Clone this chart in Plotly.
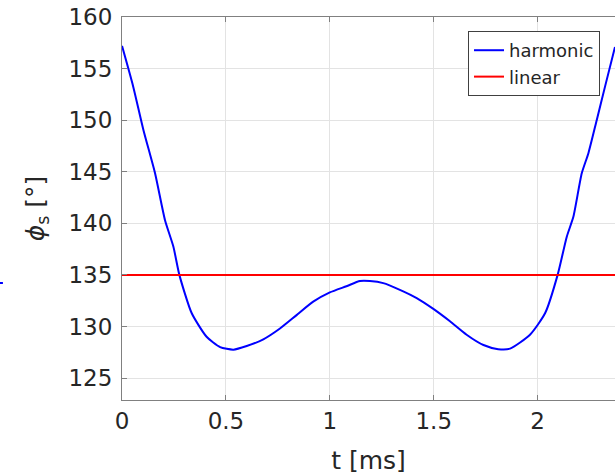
import plotly.graph_objects as go

# Data
t_ms = [0.0, 0.054, 0.103, 0.159, 0.207, 0.247, 0.276, 0.335, 0.407, 0.472, 0.536, 0.6,
        0.68, 0.76, 0.84, 0.92, 1.0, 1.08, 1.145, 1.193, 1.257, 1.337, 1.418, 1.498,
        1.578, 1.658, 1.739, 1.81, 1.867, 1.963, 2.036, 2.096, 2.14, 2.172, 2.212,
        2.244, 2.284, 2.324, 2.372]
phi_harmonic = [157.2, 153.25, 149.05, 144.85, 140.3, 137.75, 135.0, 131.3, 129.0, 128.0,
                127.75, 128.1, 128.75, 129.8, 131.1, 132.4, 133.3, 133.9, 134.4, 134.4,
                134.2, 133.55, 132.75, 131.7, 130.5, 129.2, 128.2, 127.8, 127.85, 129.2,
                131.3, 135.0, 138.7, 140.65, 144.85, 146.8, 150.0, 153.25, 157.1]
linear_t = [0.0, 2.372]
phi_linear = [135.0, 135.0]

x_range = [0, 2.372]
y_range = [122.87, 160]
x_ticks = [0, 0.5, 1, 1.5, 2]
x_ticklabels = ["0", "0.5", "1", "1.5", "2"]
y_ticks = [125, 130, 135, 140, 145, 150, 155, 160]

font_fam = "DejaVu Sans"
txt = "#262626"
axc = "#808080"

fig = go.Figure()
fig.add_trace(go.Scatter(x=t_ms, y=phi_harmonic, mode="lines", name="harmonic",
                         line=dict(color="#0000FF", width=2, shape="spline", smoothing=0.6)))
fig.add_trace(go.Scatter(x=linear_t, y=phi_linear, mode="lines", name="linear",
                         line=dict(color="#FF0000", width=2)))

fig.update_layout(
    width=615, height=475,
    margin=dict(l=122, r=0, t=17, b=75),
    paper_bgcolor="white", plot_bgcolor="white",
    font=dict(family=font_fam, color=txt),
    showlegend=True,
    legend=dict(x=0.9696, y=0.9634, xanchor="right", yanchor="top",
                bgcolor="white", bordercolor="#404040", borderwidth=1,
                font=dict(size=18, color=txt, family=font_fam),
                tracegroupgap=0, itemwidth=30),
    xaxis=dict(range=x_range, tickvals=x_ticks, ticktext=x_ticklabels,
               showgrid=True, gridcolor="#e3e3e3", gridwidth=1,
               showline=True, linecolor=axc, linewidth=1, mirror="ticks",
               ticks="inside", ticklen=5, tickcolor=axc,
               tickfont=dict(size=23, color=txt), zeroline=False,
               title=dict(text="t [ms]", font=dict(size=25, color=txt), standoff=20)),
    yaxis=dict(range=y_range, tickvals=y_ticks,
               showgrid=True, gridcolor="#e3e3e3", gridwidth=1,
               showline=True, linecolor=axc, linewidth=1, mirror=False,
               ticks="inside", ticklen=5, tickcolor=axc,
               tickfont=dict(size=23, color=txt), zeroline=False,
               ticklabelstandoff=4,
               title=dict(text="<i>ϕ</i><sub>s</sub> [°]", font=dict(size=25, color=txt), standoff=16)),
)

# small stray mark at the far left edge of the reference image
fig.add_shape(type="line", xref="paper", yref="paper",
              x0=-0.2475, x1=-0.2415, y0=0.3055, y1=0.3055,
              line=dict(color="#0000FF", width=2))

fig.write_html("out.html")
